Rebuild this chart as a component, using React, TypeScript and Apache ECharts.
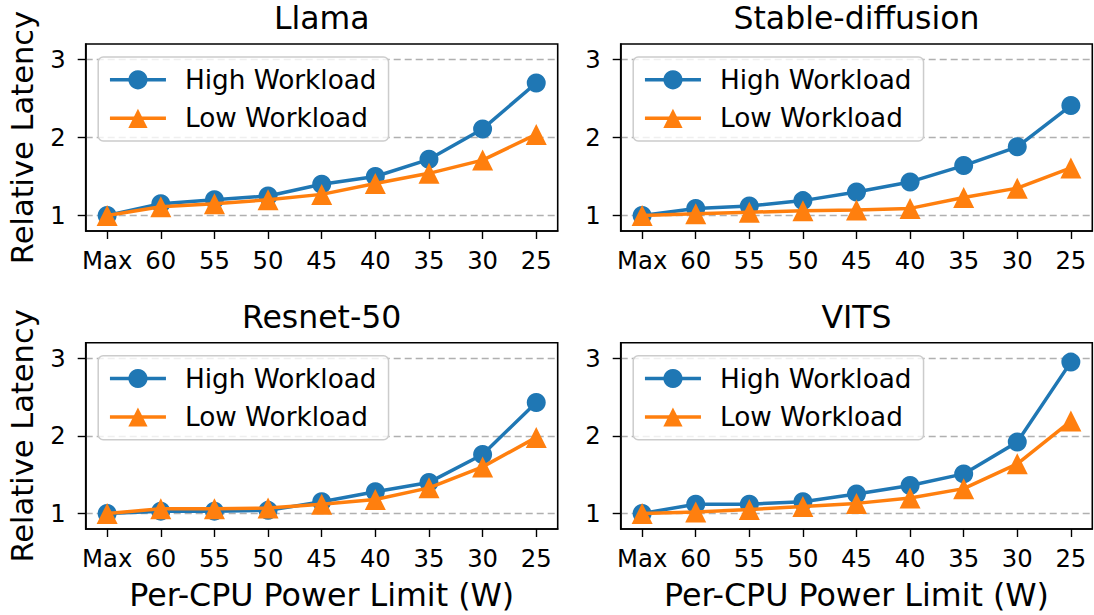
import React, { useEffect, useRef } from "react";
import * as echarts from "echarts";

const categories = ["Max", "60", "55", "50", "45", "40", "35", "30", "25"];
const yTicks = [1, 2, 3];
const panelTitles = ["Llama", "Stable-diffusion", "Resnet-50", "VITS"];
const seriesNames = ["High Workload", "Low Workload"];

const llamaHigh = [1.0, 1.15, 1.2, 1.25, 1.4, 1.5, 1.72, 2.11, 2.7];
const llamaLow = [1.0, 1.11, 1.15, 1.2, 1.27, 1.41, 1.54, 1.71, 2.04];
const sdHigh = [1.0, 1.09, 1.12, 1.19, 1.3, 1.43, 1.64, 1.88, 2.41];
const sdLow = [1.0, 1.02, 1.04, 1.06, 1.07, 1.09, 1.23, 1.35, 1.61];
const resnetHigh = [1.0, 1.03, 1.03, 1.04, 1.15, 1.28, 1.4, 1.76, 2.43];
const resnetLow = [1.0, 1.06, 1.06, 1.07, 1.12, 1.18, 1.33, 1.6, 1.98];
const vitsHigh = [1.0, 1.12, 1.12, 1.15, 1.25, 1.36, 1.51, 1.92, 2.95];
const vitsLow = [1.0, 1.02, 1.05, 1.09, 1.13, 1.2, 1.32, 1.64, 2.19];

const panelData = [
  [llamaHigh, llamaLow],
  [sdHigh, sdLow],
  [resnetHigh, resnetLow],
  [vitsHigh, vitsLow],
];

const BLUE = "#1f77b4";
const ORANGE = "#ff7f0e";
const FONT = "DejaVu Sans";

const gridLefts = [85.7, 620.7, 85.7, 620.7];
const gridTops = [44, 44, 342.7, 342.7];
const gridWidths = [472, 471.6, 472, 471.6];
const gridHeights = [187, 187, 186.3, 186.3];

export default function App() {
  const ref = useRef<HTMLDivElement>(null);

  useEffect(() => {
    if (!ref.current) return;
    const chart = echarts.init(ref.current, null, { renderer: "svg" });

    const grids = gridLefts.map((l, i) => ({
      left: l,
      top: gridTops[i],
      width: gridWidths[i],
      height: gridHeights[i],
      show: true,
      borderColor: "#000",
      borderWidth: 1.6,
      backgroundColor: "transparent",
    }));

    const xAxes = gridLefts.map((_, i) => ({
      type: "value",
      gridIndex: i,
      min: -0.4,
      max: 8.4,
      axisLine: { show: true, onZero: false, lineStyle: { color: "#000", width: 1.6 } },
      axisTick: {
        show: true,
        length: 8,
        lineStyle: { color: "#000", width: 1.4 },
        customValues: categories.map((_, k) => k),
      },
      axisLabel: {
        show: true,
        margin: 17,
        fontSize: 24.3,
        fontFamily: FONT,
        color: "#000",
        customValues: categories.map((_, k) => k),
        formatter: (v: number) => categories[Math.round(v)] ?? "",
      },
      splitLine: { show: false },
    }));

    const yAxes = gridLefts.map((_, i) => ({
      type: "value",
      gridIndex: i,
      min: 0.8,
      max: 3.2,
      axisLine: { show: true, onZero: false, lineStyle: { color: "#000", width: 1.6 } },
      axisTick: {
        show: true,
        length: 8,
        lineStyle: { color: "#000", width: 1.4 },
        customValues: yTicks,
      },
      axisLabel: {
        show: true,
        margin: 20,
        fontSize: 24.3,
        fontFamily: FONT,
        color: "#000",
        customValues: yTicks,
        formatter: (v: number) => String(v),
      },
      splitLine: {
        show: true,
        lineStyle: { color: "#b0b0b0", width: 1.4, type: [7, 4] },
      },
    }));

    const series: any[] = [];
    panelData.forEach((pair, i) => {
      pair.forEach((vals, s) => {
        series.push({
          type: "line",
          name: seriesNames[s],
          xAxisIndex: i,
          yAxisIndex: i,
          data: vals.map((v, k) => [k, v]),
          symbol: s === 0 ? "circle" : "triangle",
          symbolSize: s === 0 ? 19 : 21,
          itemStyle: { color: s === 0 ? BLUE : ORANGE },
          lineStyle: { color: s === 0 ? BLUE : ORANGE, width: 3.5 },
          z: 3 + s,
          clip: false,
        });
      });
    });

    const legends = gridLefts.map((l, i) => ({
      left: l + 12.5,
      top: gridTops[i] + 13,
      orient: "vertical",
      data: seriesNames,
      selectedMode: false,
      itemWidth: 56,
      itemHeight: 24,
      itemGap: 8.5,
      padding: [7.8, 12, 7.7, 10],
      backgroundColor: "rgba(255,255,255,0.8)",
      borderColor: "#cccccc",
      borderWidth: 1.5,
      borderRadius: 5,
      lineStyle: { width: 3.5 },
      textStyle: {
        fontSize: 26.3,
        fontFamily: FONT,
        color: "#000",
        lineHeight: 30,
        padding: [0, 0, 0, 14],
      },
    }));

    const graphics: any[] = [];
    panelTitles.forEach((t, i) => {
      graphics.push({
        type: "text",
        x: gridLefts[i] + gridWidths[i] / 2,
        y: i < 2 ? 18.3 : 317,
        style: {
          text: t,
          fontSize: 31.5,
          fontFamily: FONT,
          fill: "#000",
          align: "center",
          verticalAlign: "middle",
          textAlign: "center",
          textVerticalAlign: "middle",
        },
      });
    });
    [2, 3].forEach((i) => {
      graphics.push({
        type: "text",
        x: gridLefts[i] + gridWidths[i] / 2,
        y: 595,
        style: {
          text: "Per-CPU Power Limit (W)",
          fontSize: 31.7,
          fontFamily: FONT,
          fill: "#000",
          align: "center",
          verticalAlign: "middle",
          textAlign: "center",
          textVerticalAlign: "middle",
        },
      });
    });
    [0, 2].forEach((i) => {
      graphics.push({
        type: "text",
        x: 22,
        y: gridTops[i] + gridHeights[i] / 2,
        rotation: Math.PI / 2,
        style: {
          text: "Relative Latency",
          fontSize: 30.5,
          fontFamily: FONT,
          fill: "#000",
          align: "center",
          verticalAlign: "middle",
          textAlign: "center",
          textVerticalAlign: "middle",
        },
      });
    });

    chart.setOption({
      animation: false,
      backgroundColor: "#fff",
      grid: grids,
      xAxis: xAxes,
      yAxis: yAxes,
      legend: legends,
      series,
      graphic: graphics,
    });

    return () => chart.dispose();
  }, []);

  return (
    <div
      ref={ref}
      style={{ position: "absolute", left: 0, top: 0, width: 1094, height: 615 }}
    />
  );
}
